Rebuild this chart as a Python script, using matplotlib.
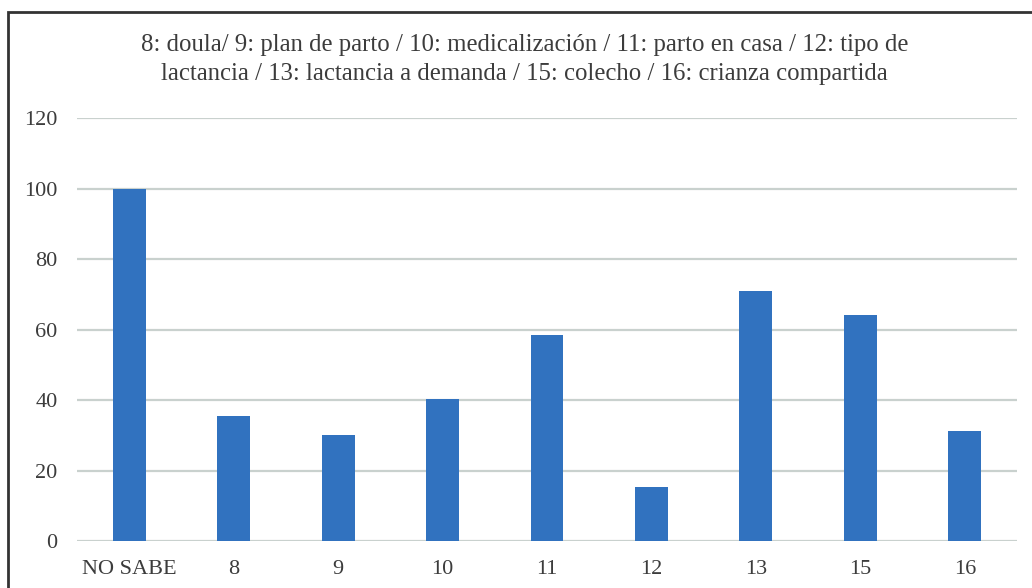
import matplotlib.pyplot as plt
from matplotlib.patches import Rectangle

# Datos
categorias = ["NO SABE", "8", "9", "10", "11", "12", "13", "15", "16"]
valores = [100, 35.5, 30, 40.3, 58.5, 15.4, 70.8, 64.2, 31.2]
ticks_y = [0, 20, 40, 60, 80, 100, 120]
titulo = ("8: doula/ 9: plan de parto / 10: medicalización / 11: parto en casa / 12: tipo de\n"
          "lactancia / 13: lactancia a demanda / 15: colecho / 16: crianza compartida")

plt.rcParams["font.family"] = ["Liberation Serif", "DejaVu Serif"]
color_texto = "#3c3c3c"

fig = plt.figure(figsize=(10.32, 5.88), dpi=100)
ax = fig.add_axes([0.0746, 0.0799, 0.9109, 0.7194])

x = range(len(categorias))
ax.bar(x, valores, width=0.315, color="#3172BF", zorder=3)

ax.set_xlim(-0.5, len(categorias) - 0.5)
ax.set_ylim(0, 120)
ax.set_yticks(ticks_y)
ax.set_xticks(list(x))
ax.set_xticklabels(categorias)
ax.yaxis.grid(True, color="#C9D1CE", linewidth=1.6, zorder=0)
ax.tick_params(length=0, labelsize=16, colors=color_texto)
ax.tick_params(axis="x", pad=14)
ax.tick_params(axis="y", pad=14)
for s in ax.spines.values():
    s.set_visible(False)

# Título en dos líneas
fig.text(0.508, 0.899, titulo, ha="center", va="center", fontsize=17.8,
         color=color_texto, linespacing=1.42)

# Marco del gráfico (recortado a la derecha y abajo)
fig.patches.append(Rectangle((8 / 1032, -0.1), 1.2, 1.1 - 12 / 588,
                             transform=fig.transFigure, fill=False,
                             edgecolor="#333333", linewidth=2))

fig.savefig("out.png", dpi=100)
